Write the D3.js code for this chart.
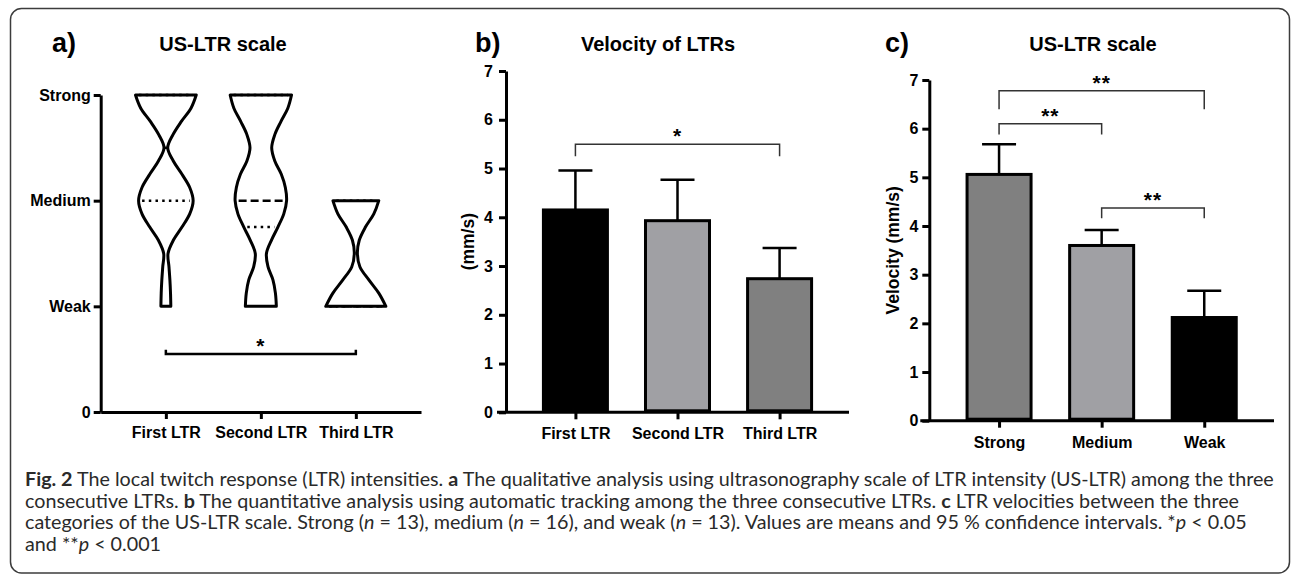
<!DOCTYPE html>
<html>
<head>
<meta charset="utf-8">
<script src="https://cdn.jsdelivr.net/npm/d3@7"></script>
<style>
body { margin: 0; background: #fff; }
svg text { font-family: "Liberation Sans", Arial, sans-serif; }
.axis path, .axis line { stroke: #000; stroke-width: 3px; }
.axis text { font-family: "Liberation Sans", Arial, sans-serif; font-size: 16px; font-weight: bold; fill: #000; }
.caption { font-family: Lato, "Open Sans", sans-serif; fill: #2a2a2a; }
</style>
</head>
<body>
<svg id="fig" width="1292" height="576"></svg>
<script>
/* ---- panel a : violins of the US-LTR scale ---- */
var ltrNames = ["First LTR", "Second LTR", "Third LTR"];
var scaleTickValues = [0, 1, 2, 3];
var scaleTickLabels = ["0", "Weak", "Medium", "Strong"];
var violinLevels = [1, 1.125, 1.25, 1.375, 1.5, 1.625, 1.75, 1.875, 2, 2.125, 2.25, 2.375, 2.5, 2.625, 2.75, 2.875, 3];
var firstLTRDensity  = [0.16, 0.15, 0.13, 0.10, 0.07, 0.24, 0.52, 0.77, 0.88, 0.77, 0.52, 0.24, 0.06, 0.23, 0.50, 0.81, 0.98];
var secondLTRDensity = [0.50, 0.47, 0.39, 0.23, 0.18, 0.34, 0.55, 0.74, 0.83, 0.79, 0.66, 0.45, 0.35, 0.45, 0.65, 0.87, 0.99];
var thirdLTRDensity  = [0.97, 0.74, 0.42, 0.13, 0.05, 0.11, 0.31, 0.58, 0.74];
// lower quartile, median, upper quartile
var firstLTRQuartiles  = [2, 2.5, 3];
var secondLTRQuartiles = [1.75, 2, 3];
var thirdLTRQuartiles  = [1, 1, 2];

/* ---- panel b : velocity of LTRs ---- */
var ltrVelocityMean  = [4.15, 3.93, 2.74];
var ltrVelocityUpper = [4.96, 4.77, 3.37];
var ltrBarColors = ["#000000", "#a0a0a4", "#808080"];

/* ---- panel c : velocity by US-LTR category ---- */
var scaleNames = ["Strong", "Medium", "Weak"];
var scaleVelocityMean  = [5.06, 3.60, 2.12];
var scaleVelocityUpper = [5.68, 3.92, 2.67];
var scaleBarColors = ["#808080", "#a0a0a4", "#000000"];

var velocityTicks = [0, 1, 2, 3, 4, 5, 6, 7];

// significance brackets: [from, to, line level, tip level, label]
var bracketsA = [[0, 2, 0.55, 0.59, "*"]];
var bracketsB = [[0, 2, 5.5, 5.25, "*"]];
var bracketsC = [[0, 2, 6.78, 6.40, "**"], [0, 1, 6.10, 5.88, "**"], [1, 2, 4.37, 4.16, "**"]];

var svg = d3.select("#fig");
svg.append("rect").attr("width", 1292).attr("height", 576).attr("fill", "#fff");

/* frame */
svg.append("rect")
	.attr("x", 10.5).attr("y", 8.5)
	.attr("width", 1279).attr("height", 564.5)
	.attr("rx", 11).attr("ry", 11)
	.attr("fill", "none")
	.attr("stroke", "#3c3c3c")
	.attr("stroke-width", 1.5);

function panelTitle(letterX, titleX, letter, title)
{
	svg.append("text")
		.attr("x", letterX).attr("y", 52)
		.style("font-size", "27px").style("font-weight", "bold")
		.text(letter);
	svg.append("text")
		.attr("x", titleX).attr("y", 50.5)
		.attr("text-anchor", "middle")
		.style("font-size", "20px").style("font-weight", "bold")
		.text(title);
}

function xPos(x, i)
{
	return x(x.domain()[i]);
}

function drawBracket(g, x, y, b, up)
{
	var a = xPos(x, b[0]), c = xPos(x, b[1]);
	var yl = y(b[2]), yt = y(b[3]);
	g.append("path")
		.attr("d", "M" + a + "," + yt + "V" + yl + "H" + c + "V" + yt)
		.attr("fill", "none")
		.attr("stroke", up ? "#000" : "#333")
		.attr("stroke-width", up ? 2.5 : 1.5);
	g.append("text")
		.attr("x", (a + c) / 2)
		.attr("y", yl - 1)
		.attr("text-anchor", "middle")
		.style("font-size", "21px")
		.style("font-weight", "bold")
		.style("letter-spacing", "1px")
		.text(b[4]);
}

/* ================= panel a ================= */
var gA = svg.append("g");
var xA = d3.scalePoint().domain(ltrNames).range([100.7, 421]).padding(0.686);
var yA = d3.scaleLinear().domain([0, 3]).range([412, 95]);
var wA = d3.scaleLinear().domain([0, 1]).range([0, 31]);

gA.append("g").attr("class", "axis")
	.attr("transform", "translate(0,412)")
	.call(d3.axisBottom(xA).tickSize(7).tickSizeOuter(0).tickPadding(8));
gA.append("g").attr("class", "axis")
	.attr("transform", "translate(100.7,0)")
	.call(d3.axisLeft(yA).tickValues(scaleTickValues)
		.tickFormat(function(d, i) { return scaleTickLabels[i]; })
		.tickSize(7).tickSizeOuter(0).tickPadding(3));

var violins = [
	{ name: ltrNames[0], levels: violinLevels, dens: firstLTRDensity, q: firstLTRQuartiles },
	{ name: ltrNames[1], levels: violinLevels, dens: secondLTRDensity, q: secondLTRQuartiles },
	{ name: ltrNames[2], levels: violinLevels.slice(0, thirdLTRDensity.length), dens: thirdLTRDensity, q: thirdLTRQuartiles }
];

function densityAt(v, level)
{
	for (var i = 0; i < v.levels.length - 1; i++) {
		if (level >= v.levels[i] && level <= v.levels[i + 1]) {
			var t = (level - v.levels[i]) / (v.levels[i + 1] - v.levels[i]);
			return v.dens[i] + t * (v.dens[i + 1] - v.dens[i]);
		}
	}
	return 0;
}

violins.forEach(function(v) {
	var cx = xA(v.name);
	var pts = v.levels.map(function(l, i) { return { l: l, d: v.dens[i] }; });
	var area = d3.area()
		.curve(d3.curveCatmullRom.alpha(0.5))
		.y(function(d) { return yA(d.l); })
		.x0(function(d) { return cx - wA(d.d); })
		.x1(function(d) { return cx + wA(d.d); });
	gA.append("path")
		.attr("d", area(pts))
		.attr("fill", "none")
		.attr("stroke", "#000")
		.attr("stroke-width", 3)
		.attr("stroke-linejoin", "round");

	v.q.forEach(function(q, k) {
		var hw = Math.max(wA(densityAt(v, q)) - 3.5, 1.5);
		gA.append("line")
			.attr("x1", cx - hw).attr("x2", cx + hw)
			.attr("y1", yA(q)).attr("y2", yA(q))
			.attr("stroke", "#000")
			.attr("stroke-width", 2.5)
			.attr("stroke-dasharray", k === 1 ? (hw < 6 ? null : "8,4") : "2.5,4.2");
	});
});

bracketsA.forEach(function(b) { drawBracket(gA, xA, yA, b, true); });
panelTitle(52, 223, "a)", "US-LTR scale");

/* ================= bar panels ================= */
function barPanel(opt)
{
	var g = svg.append("g");
	var x = d3.scalePoint().domain(opt.names).range([opt.left, opt.right]).padding(0.68);
	var y = d3.scaleLinear().domain([0, 7]).range([opt.bottom, opt.top]);
	var barW = 64;

	g.append("g").attr("class", "axis")
		.attr("transform", "translate(0," + opt.bottom + ")")
		.call(d3.axisBottom(x).tickSize(7).tickSizeOuter(0).tickPadding(opt.xPad));
	g.select(".axis path").attr("d", "M" + (opt.left - 9) + ",0H" + opt.right);
	g.append("g").attr("class", "axis")
		.attr("transform", "translate(" + opt.left + ",0)")
		.call(d3.axisLeft(y).tickValues(velocityTicks).tickFormat(d3.format("d"))
			.tickSize(7).tickSizeOuter(0).tickPadding(opt.yPad));

	// error bars (upper only)
	g.selectAll(".err").data(opt.names).enter()
		.append("path")
		.attr("d", function(d, i) {
			var cx = x(d);
			return "M" + cx + "," + y(opt.mean[i]) + "V" + y(opt.upper[i]) +
				"M" + (cx - 17) + "," + y(opt.upper[i]) + "H" + (cx + 17);
		})
		.attr("fill", "none")
		.attr("stroke", "#000")
		.attr("stroke-width", 2.5);

	g.selectAll(".bar").data(opt.names).enter()
		.append("rect")
		.attr("x", function(d) { return x(d) - barW / 2; })
		.attr("y", function(d, i) { return y(opt.mean[i]); })
		.attr("width", barW)
		.attr("height", function(d, i) { return opt.bottom - y(opt.mean[i]) - 1.5; })
		.attr("fill", function(d, i) { return opt.colors[i]; })
		.attr("stroke", "#000")
		.attr("stroke-width", 3);

	g.append("text")
		.attr("transform", "translate(" + opt.labelX + "," + (opt.top + opt.bottom) / 2 + ") rotate(-90)")
		.attr("text-anchor", "middle")
		.style("font-size", "17.5px").style("font-weight", "bold")
		.text(opt.yLabel);

	opt.brackets.forEach(function(b) { drawBracket(g, x, y, b, false); });
	return g;
}

barPanel({
	names: ltrNames, mean: ltrVelocityMean, upper: ltrVelocityUpper, colors: ltrBarColors,
	left: 506, right: 849, top: 71, bottom: 412.3, xPad: 8, yPad: 6,
	labelX: 474, yLabel: "(mm/s)", brackets: bracketsB
});
panelTitle(475, 658, "b)", "Velocity of LTRs");

barPanel({
	names: scaleNames, mean: scaleVelocityMean, upper: scaleVelocityUpper, colors: scaleBarColors,
	left: 929.3, right: 1274, top: 80, bottom: 420.7, xPad: 9, yPad: 4,
	labelX: 899, yLabel: "Velocity (mm/s)", brackets: bracketsC
});
panelTitle(885, 1093, "c)", "US-LTR scale");

/* ================= caption ================= */
var captionLines = [
	[["Fig. 2", "b"], [" The local twitch response (LTR) intensities. ", ""], ["a", "b"], [" The qualitative analysis using ultrasonography scale of LTR intensity (US-LTR) among the three", ""]],
	[["consecutive LTRs. ", ""], ["b", "b"], [" The quantitative analysis using automatic tracking among the three consecutive LTRs. ", ""], ["c", "b"], [" LTR velocities between the three", ""]],
	[["categories of the US-LTR scale. Strong (", ""], ["n", "i"], [" = 13), medium (", ""], ["n", "i"], [" = 16), and weak (", ""], ["n", "i"], [" = 13). Values are means and 95 % confidence intervals. *", ""], ["p", "i"], [" < 0.05", ""]],
	[["and **", ""], ["p", "i"], [" < 0.001", ""]]
];
var captionBase = [486, 507.7, 529.4, 551];

var capTexts = captionLines.map(function(line, li) {
	var t = svg.append("text")
		.attr("class", "caption")
		.attr("x", 25).attr("y", captionBase[li])
		.style("font-size", "16px")
		.attr("xml:space", "preserve");
	line.forEach(function(seg) {
		t.append("tspan")
			.style("font-weight", seg[1] === "b" ? "bold" : "normal")
			.style("font-style", seg[1] === "i" ? "italic" : "normal")
			.text(seg[0]);
	});
	return t;
});
var natural = capTexts[0].node().getComputedTextLength();
var capSize = 16 * 1250 / natural;
capTexts.forEach(function(t) { t.style("font-size", capSize + "px"); });
</script>
</body>
</html>
